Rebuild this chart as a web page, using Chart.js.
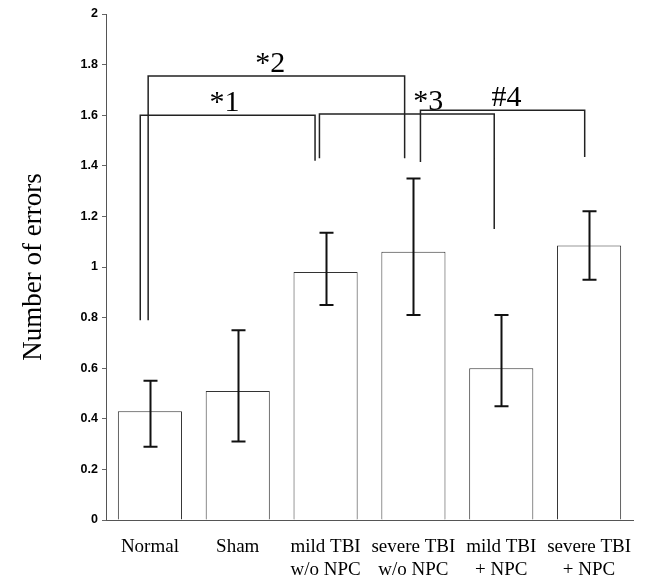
<!DOCTYPE html>
<html>
<head>
<meta charset="utf-8">
<script src="https://cdn.jsdelivr.net/npm/chart.js@4.4.0/dist/chart.umd.min.js"></script>
<style>
  html, body { margin: 0; padding: 0; background: #fff; }
</style>
</head>
<body>
<canvas id="chart" width="650" height="576"></canvas>
<script>
// values
const categories = [['Normal'], ['Sham'], ['mild TBI', 'w/o NPC'], ['severe TBI', 'w/o NPC'], ['mild TBI', '+ NPC'], ['severe TBI', '+ NPC']];
const means = [0.43, 0.51, 0.98, 1.06, 0.60, 1.085];
const errHigh = [0.55, 0.75, 1.135, 1.35, 0.81, 1.22];
const errLow = [0.29, 0.31, 0.85, 0.81, 0.45, 0.95];
const yTicks = [0, 0.2, 0.4, 0.6, 0.8, 1, 1.2, 1.4, 1.6, 1.8, 2];

// significance brackets (x in category units, y in errors)
const bracketText = ['*1', '*2', '*3', '#4'];
const bracketFrom = [-0.11, -0.02, 1.93, 3.08];
const bracketTo = [1.88, 2.90, 3.92, 4.95];
const bracketTop = [1.60, 1.755, 1.605, 1.62];
const bracketFromEnd = [0.79, 0.79, 1.43, 1.415];
const bracketToEnd = [1.42, 1.43, 1.15, 1.435];
const bracketTextAt = [0.85, 1.37, 3.17, 4.06];

const serif = "'Liberation Serif', 'Times New Roman', serif";

const errorBars = {
  id: 'errorBars',
  afterDatasetsDraw(chart) {
    const { ctx, scales: { y } } = chart;
    const meta = chart.getDatasetMeta(0);
    ctx.save();
    ctx.strokeStyle = '#111';
    ctx.lineWidth = 2;
    meta.data.forEach((bar, i) => {
      const x = Math.round(bar.x) + 0.5;
      const hi = y.getPixelForValue(errHigh[i]);
      const lo = y.getPixelForValue(errLow[i]);
      ctx.beginPath();
      ctx.moveTo(x, hi); ctx.lineTo(x, lo);
      ctx.moveTo(x - 7, hi); ctx.lineTo(x + 7, hi);
      ctx.moveTo(x - 7, lo); ctx.lineTo(x + 7, lo);
      ctx.stroke();
    });
    ctx.restore();
  }
};

const brackets = {
  id: 'brackets',
  afterDatasetsDraw(chart) {
    const { ctx, scales: { x, y } } = chart;
    ctx.save();
    ctx.strokeStyle = '#222';
    ctx.lineWidth = 1.5;
    ctx.fillStyle = '#000';
    ctx.font = '30px ' + serif;
    ctx.textAlign = 'center';
    ctx.textBaseline = 'alphabetic';
    bracketText.forEach((t, i) => {
      const x1 = x.getPixelForValue(bracketFrom[i]);
      const x2 = x.getPixelForValue(bracketTo[i]);
      const top = y.getPixelForValue(bracketTop[i]);
      ctx.beginPath();
      ctx.moveTo(x1, y.getPixelForValue(bracketFromEnd[i]));
      ctx.lineTo(x1, top);
      ctx.lineTo(x2, top);
      ctx.lineTo(x2, y.getPixelForValue(bracketToEnd[i]));
      ctx.stroke();
      ctx.fillText(t, x.getPixelForValue(bracketTextAt[i]), top - 4);
    });
    ctx.restore();
  }
};

new Chart(document.getElementById('chart'), {
  type: 'bar',
  data: {
    labels: categories,
    datasets: [{
      data: means,
      backgroundColor: '#fff',
      borderColor: '#333',
      borderWidth: 1,
      barPercentage: 0.73,
      categoryPercentage: 1
    }]
  },
  options: {
    responsive: false,
    animation: false,
    layout: { padding: { top: 14, right: 17, left: 0, bottom: 0 } },
    plugins: { legend: { display: false }, tooltip: { enabled: false } },
    scales: {
      x: {
        grid: { display: false, drawTicks: false },
        border: { display: true, color: '#555', width: 1 },
        ticks: { color: '#000', font: { family: serif, size: 19 }, padding: 16, maxRotation: 0, autoSkip: false },
        afterFit(s) { s.height = 56; }
      },
      y: {
        min: 0, max: 2,
        afterBuildTicks(s) { s.ticks = yTicks.map(v => ({ value: v })); },
        grid: { drawOnChartArea: false, tickLength: 4, color: '#666' },
        border: { display: true, color: '#555', width: 1 },
        ticks: {
          color: '#000', padding: 4,
          font: { family: "'Liberation Sans', Arial, sans-serif", size: 12.5, weight: 'bold' },
          callback: v => String(Math.round(v * 10) / 10)
        },
        title: { display: true, text: 'Number of errors', color: '#000', font: { family: serif, size: 27 }, padding: { top: 18, bottom: 0 } },
        afterFit(s) { s.width = 106; }
      }
    }
  },
  plugins: [errorBars, brackets]
});
</script>
</body>
</html>
